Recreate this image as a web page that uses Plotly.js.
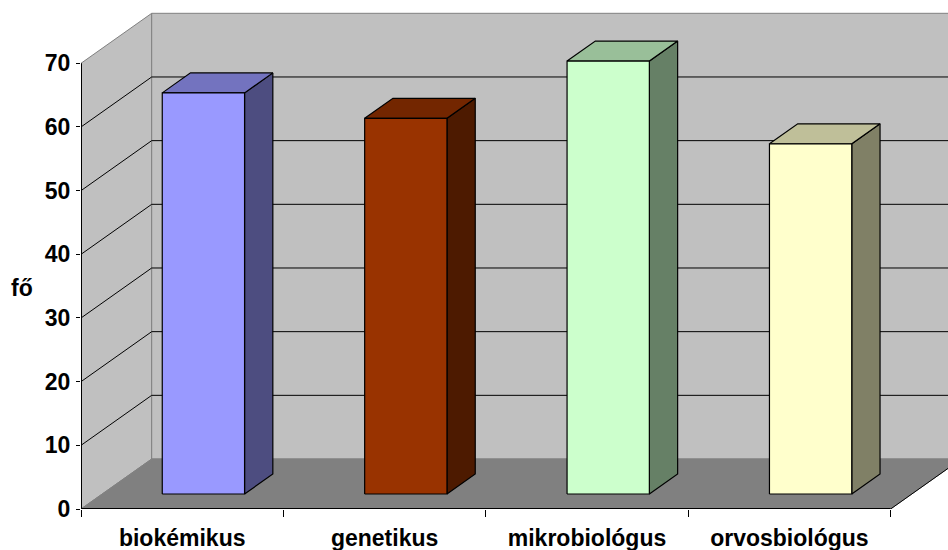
<!DOCTYPE html>
<html>
<head>
<meta charset="utf-8">
<script src="https://cdn.plot.ly/plotly-3.0.1.min.js"></script>
<style>html,body{margin:0;padding:0;background:#fff;}#chart{width:948px;height:550px;}</style>
</head>
<body>
<div id="chart"></div>
<script>
// ---- data ----
const categories = ['biokémikus', 'genetikus', 'mikrobiológus', 'orvosbiológus'];
const values = [63, 59, 68, 55];
const yTicks = [0, 10, 20, 30, 40, 50, 60, 70];
const yAxisLabel = 'fő';

// ---- style ----
const frontColors = ['#9999FF', '#993300', '#CCFFCC', '#FFFFCC'];
const topColors   = ['#7373BF', '#732600', '#99BF99', '#BFBF99'];
const sideColors  = ['#4D4D80', '#4D1A00', '#668066', '#808066'];
const FONT = 'Liberation Sans, Arial, sans-serif';

// ---- geometry (pixel scale -> data units) ----
const W = 948, H = 550;
const ML = 81, MR = 0, MT = 8, MB = 41;
const PXU = 202.4;          // pixels per category
const PYU = 6.367;          // pixels per value unit
const xMax = (W - ML - MR) / PXU;
const yMax = (H - MT - MB) / PYU;
const ddx = 70.7 / PXU;     // depth offset in x units
const ddy = 50 / PYU;       // depth offset in y units
const vTop = yTicks[yTicks.length - 1];
const nCat = categories.length;
const barW = 0.4066, f1 = 0.3, f2 = 0.7;

const traces = [];
function poly(xs, ys, fill, line, lw) {
  traces.push({type: 'scatter', mode: 'lines', x: xs, y: ys, fill: 'toself',
    fillcolor: fill, line: {color: line, width: lw}, hoverinfo: 'skip', showlegend: false});
}
function lines(xs, ys, color, lw) {
  traces.push({type: 'scatter', mode: 'lines', x: xs, y: ys, connectgaps: false,
    line: {color: color, width: lw}, hoverinfo: 'skip', showlegend: false});
}

// side wall
poly([0, ddx, ddx, 0, 0], [0, ddy, vTop + ddy, vTop, 0], '#C0C0C0', '#808080', 1);
// back wall
poly([ddx, xMax + 1, xMax + 1, ddx, ddx], [ddy, ddy, vTop + ddy, vTop + ddy, ddy], '#C0C0C0', '#808080', 1);
// floor
poly([0, nCat, nCat + ddx, ddx, 0], [0, 0, ddy, ddy, 0], '#808080', '#808080', 1);
// gridlines
const gx = [], gy = [];
yTicks.filter(v => v > 0 && v < vTop).forEach(v => {
  gx.push(0, ddx, xMax + 1, null);
  gy.push(v, v + ddy, v + ddy, null);
});
lines(gx, gy, '#000000', 1);

// bars
values.forEach((v, i) => {
  const a = i + 0.5 - barW / 2 + f1 * ddx;
  const b = a + barW;
  const y0 = f1 * ddy, y1 = v + f1 * ddy;
  const dx = (f2 - f1) * ddx, dy = (f2 - f1) * ddy;
  poly([b, b, b + dx, b + dx, b], [y0, y1, y1 + dy, y0 + dy, y0], sideColors[i], '#000000', 1.2);
  poly([a, b, b + dx, a + dx, a], [y1, y1, y1 + dy, y1 + dy, y1], topColors[i], '#000000', 1.2);
  poly([a, b, b, a, a], [y0, y0, y1, y1, y0], frontColors[i], '#000000', 1.2);
});

// front edges
lines([0, 0], [0, vTop], '#000000', 2);
lines([0, nCat], [0, 0], '#000000', 2);
lines([nCat, nCat + ddx], [0, ddy], '#000000', 1);

// axis tick marks at category boundaries (xaxis2)
traces.push({type: 'scatter', x: [0], y: [0], xaxis: 'x2', mode: 'markers',
  marker: {opacity: 0}, hoverinfo: 'skip', showlegend: false});

const tickFont = {family: FONT, size: 23, color: '#000000', weight: 'bold'};

const layout = {
  width: W, height: H,
  margin: {l: ML, r: MR, t: MT, b: MB},
  paper_bgcolor: '#FFFFFF', plot_bgcolor: '#FFFFFF',
  showlegend: false,
  hovermode: false,
  xaxis: {range: [0, xMax], showgrid: false, zeroline: false, showline: false,
    tickvals: categories.map((c, i) => i + 0.5), ticktext: categories,
    ticks: '', tickfont: tickFont, ticklabelstandoff: 13, fixedrange: true},
  xaxis2: {range: [0, xMax], overlaying: 'x', side: 'bottom', anchor: 'y',
    showgrid: false, zeroline: false, showline: false,
    tickvals: categories.map((c, i) => i).concat([nCat]), showticklabels: false,
    ticks: 'outside', ticklen: 7, tickcolor: '#000000', tickwidth: 1, fixedrange: true},
  yaxis: {range: [0, yMax], showgrid: false, zeroline: false, showline: false,
    tickvals: yTicks, ticks: 'outside', ticklen: 4, tickcolor: '#000000', tickwidth: 1,
    tickfont: tickFont, ticklabelstandoff: 1, fixedrange: true},
  annotations: [{text: yAxisLabel, xref: 'paper', yref: 'paper',
    x: (22.5 - ML) / (W - ML - MR), y: (H - MB - 288) / (H - MT - MB),
    xanchor: 'center', yanchor: 'middle', showarrow: false,
    font: {family: FONT, size: 23, color: '#000000', weight: 'bold'}}]
};

Plotly.newPlot('chart', traces, layout, {staticPlot: true, displayModeBar: false});
</script>
</body>
</html>
